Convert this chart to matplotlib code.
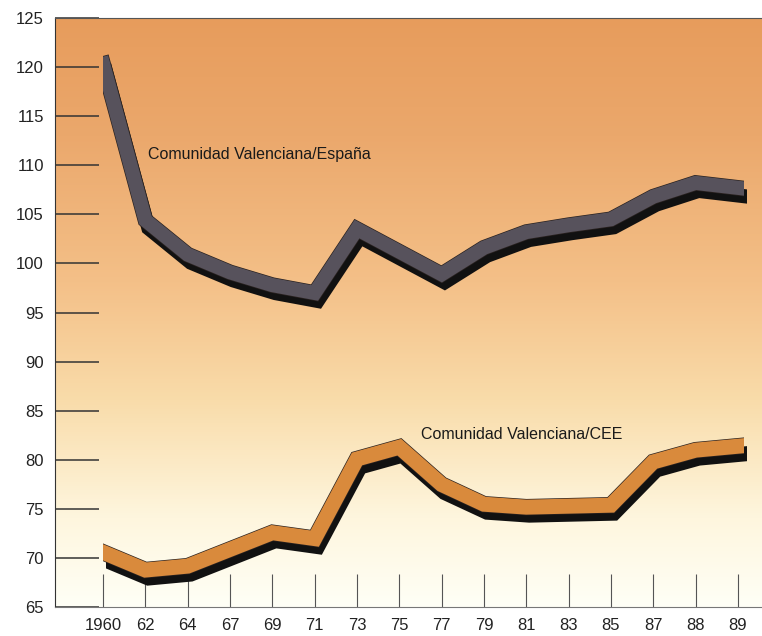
import numpy as np
import matplotlib
matplotlib.use('Agg')
import matplotlib.pyplot as plt
import matplotlib.patheffects as pe
from matplotlib.colors import LinearSegmentedColormap
from matplotlib.patches import Rectangle
from matplotlib.transforms import offset_copy

plt.rcParams['font.family'] = ['Liberation Sans', 'DejaVu Sans']

# --- datos ---
anios = ['1960', '62', '64', '67', '69', '71', '73', '75', '77', '79',
         '81', '83', '85', '87', '88', '89']
cv_espana = [120.3, 104.4, 100.9, 99.1, 97.8, 97.0, 103.5, 101.2, 98.9, 101.6,
             103.2, 103.9, 104.5, 106.8, 108.2, 107.7]
cv_cee = [70.6, 68.8, 69.2, 70.9, 72.6, 72.0, 80.1, 81.3, 77.5, 75.5,
          75.2, 75.3, 75.4, 79.8, 81.0, 81.4]
yticks = list(range(65, 130, 5))

fig = plt.figure(figsize=(7.62, 6.36), dpi=100)
ax = fig.add_axes([0.072, 0.045, 0.928, 0.927])
x = np.arange(len(anios))
ax.set_xlim(-1.14, 15.57)
ax.set_ylim(65, 125)

# --- fondo degradado (naranja arriba, blanco abajo) ---
fondo = LinearSegmentedColormap.from_list(
    'fondo', [(0.0, '#fffff6'), (0.15, '#fef6de'), (0.35, '#f9dcaa'),
              (0.55, '#f4c088'), (0.8, '#eba86c'), (1.0, '#e79c5c')])
grad = np.linspace(0, 1, 256).reshape(-1, 1)
ax.imshow(grad, cmap=fondo, aspect='auto', origin='lower',
          extent=[-1.14, 15.57, 65, 125], zorder=0)

# --- bandas con sombra (extremos cortados en vertical) ---
def banda(vals, color, lw):
    sombra = offset_copy(ax.transData, fig=fig, x=3, y=-8, units='dots')
    corte = Rectangle((x[0], 60), x[-1] - x[0] + 0.15, 70, transform=ax.transData)
    corte_s = Rectangle((x[0], 60), x[-1] - x[0] + 0.15, 70, transform=sombra)
    s, = ax.plot(x, vals, color='#111111', lw=lw, transform=sombra,
                 solid_joinstyle='miter', solid_capstyle='projecting', zorder=3)
    s.set_clip_path(corte_s)
    l, = ax.plot(x, vals, color=color, lw=lw, solid_joinstyle='miter',
                 solid_capstyle='projecting', zorder=4,
                 path_effects=[pe.Stroke(linewidth=lw + 1, foreground='#2a2220'), pe.Normal()])
    l.set_clip_path(corte)

banda(cv_espana, '#57525c', 10.2)
banda(cv_cee, '#d98a3c', 10.8)

ax.text(1.07, 111.1, 'Comunidad Valenciana/España', fontsize=11.5,
        color='#1a1a1a', va='center', zorder=5)
ax.text(7.51, 82.6, 'Comunidad Valenciana/CEE', fontsize=11.5,
        color='#1a1a1a', va='center', zorder=5)

# --- ejes ---
ax.set_xticks(x)
ax.set_xticklabels(anios)
ax.set_yticks(yticks)
ax.tick_params(axis='y', direction='in', length=32, width=1.1, color='#333333',
               labelsize=12, pad=8, labelcolor='#222222')
ax.tick_params(axis='x', direction='in', length=24, width=0.8, color='#555555',
               labelsize=12, pad=8, labelcolor='#222222')
ax.spines['right'].set_visible(False)
ax.spines['left'].set_color('#333333')
ax.spines['top'].set_color('#555555')
ax.spines['bottom'].set_color('#777777')

fig.savefig('out.png', dpi=100)
